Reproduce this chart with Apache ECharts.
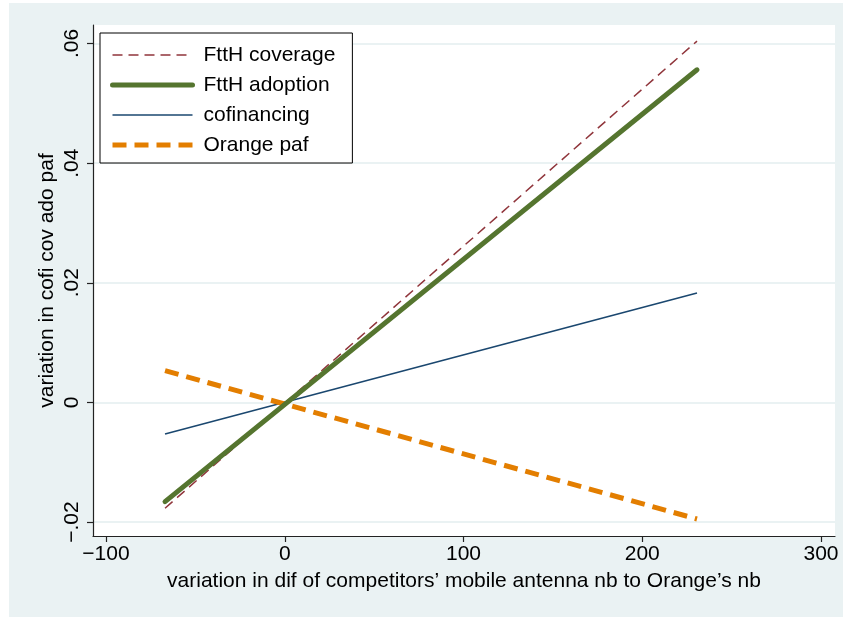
<!DOCTYPE html>
<html>
<head>
<meta charset="utf-8">
<script src="https://cdn.jsdelivr.net/npm/echarts@6/dist/echarts.min.js"></script>
<style>
html,body{margin:0;padding:0;background:#fff;}
#bg{position:absolute;left:9px;top:3px;width:834px;height:614px;background:#eaf2f3;}
#chart{position:absolute;left:0;top:0;width:843px;height:617px;}
</style>
</head>
<body>
<div id="bg"></div>
<div id="chart"></div>
<script>
// ---- data ----
const xValues = [-67.1, 230.5];
const ftthCoverage = [-0.0177, 0.0604];
const ftthAdoption = [-0.0166, 0.0556];
const cofinancing = [-0.0053, 0.0183];
const orangePaf = [0.0053, -0.0195];
const seriesNames = ['FttH coverage', 'FttH adoption', 'cofinancing', 'Orange paf'];
const xTickLabels = ['\u2212100', '0', '100', '200', '300'];
const yTickLabels = ['\u2212.02', '0', '.02', '.04', '.06'];

const pairs = arr => xValues.map((x, i) => [x, arr[i]]);
const FONT = 'Liberation Sans, Arial, Helvetica, sans-serif';
const FS = 21;

const chart = echarts.init(document.getElementById('chart'), null, {renderer: 'canvas'});
chart.setOption({
  backgroundColor: 'transparent',
  animation: false,
  textStyle: {fontFamily: FONT, color: '#000'},
  grid: [
    {left: 93, right: 8, top: 25, bottom: 81, show: true, backgroundColor: '#fff', borderWidth: 0},
    {left: 93, right: 8, top: 43.5, bottom: 95},
    {left: 106, right: 22, top: 25, bottom: 81}
  ],
  xAxis: [
    {gridIndex: 0, type: 'value', min: -107.4, max: 307.7,
     axisLine: {show: true, onZero: false, lineStyle: {color: '#222', width: 1.2}},
     axisTick: {show: false}, axisLabel: {show: false}, splitLine: {show: false},
     name: 'variation in dif of competitors\u2019 mobile antenna nb to Orange\u2019s nb',
     nameLocation: 'middle', nameGap: 35,
     nameTextStyle: {fontSize: FS, color: '#000', fontFamily: FONT}},
    {gridIndex: 1, type: 'value', min: -100, max: 300, show: false,
     axisLine: {onZero: false}},
    {gridIndex: 2, type: 'value', min: -100, max: 300, interval: 100,
     axisLine: {show: false, onZero: false},
     axisTick: {show: true, length: 6, lineStyle: {color: '#222', width: 1.2}},
     axisLabel: {show: true, fontSize: FS, color: '#000', fontFamily: FONT, margin: 8,
                 formatter: (v, i) => xTickLabels[i]},
     splitLine: {show: false}}
  ],
  yAxis: [
    {gridIndex: 0, type: 'value', min: -0.02234, max: 0.06309,
     axisLine: {show: true, onZero: false, lineStyle: {color: '#222', width: 1.2}},
     axisTick: {show: false}, axisLabel: {show: false}, splitLine: {show: false},
     name: 'variation in cofi cov ado paf', nameLocation: 'middle', nameGap: 35,
     nameRotate: 90,
     nameTextStyle: {fontSize: FS, color: '#000', fontFamily: FONT}},
    {gridIndex: 1, type: 'value', min: -0.02, max: 0.06, interval: 0.02,
     axisLine: {show: false, onZero: false},
     axisTick: {show: true, length: 6, lineStyle: {color: '#222', width: 1.2}},
     axisLabel: {show: true, rotate: 90, fontSize: FS, color: '#000', fontFamily: FONT, margin: 10,
                 formatter: (v, i) => yTickLabels[i]},
     splitLine: {show: true, lineStyle: {color: '#eaf2f3', width: 2}}},
    {gridIndex: 2, type: 'value', min: -0.02, max: 0.06, show: false,
     axisLine: {onZero: false}}
  ],
  legend: {
    orient: 'vertical', left: 100, top: 33,
    backgroundColor: '#fff', borderColor: '#000', borderWidth: 1, borderRadius: 0,
    padding: [10, 17, 6, 10],
    itemWidth: 80, itemHeight: 14, itemGap: 6,
    itemStyle: {color: 'transparent', borderWidth: 0, opacity: 0},
    lineStyle: {width: 'inherit'},
    textStyle: {fontSize: FS, color: '#000', fontFamily: FONT, lineHeight: 24, padding: [0, 0, 0, 6]},
    data: seriesNames
  },
  series: [
    {name: seriesNames[0], type: 'line', xAxisIndex: 0, yAxisIndex: 0, data: pairs(ftthCoverage),
     symbol: 'none', clip: false, z: 3,
     lineStyle: {color: '#90353b', width: 1.5, type: [10, 6]}, itemStyle: {color: '#90353b'}},
    {name: seriesNames[1], type: 'line', xAxisIndex: 0, yAxisIndex: 0, data: pairs(ftthAdoption),
     symbol: 'none', clip: false, z: 4,
     lineStyle: {color: '#55752f', width: 5, cap: 'round'}, itemStyle: {color: '#55752f'}},
    {name: seriesNames[2], type: 'line', xAxisIndex: 0, yAxisIndex: 0, data: pairs(cofinancing),
     symbol: 'none', clip: false, z: 3,
     lineStyle: {color: '#1a476f', width: 1.6}, itemStyle: {color: '#1a476f'}},
    {name: seriesNames[3], type: 'line', xAxisIndex: 0, yAxisIndex: 0, data: pairs(orangePaf),
     symbol: 'none', clip: false, z: 3,
     lineStyle: {color: '#e37e00', width: 5, type: [14, 8]}, itemStyle: {color: '#e37e00'}}
  ]
});
</script>
</body>
</html>
